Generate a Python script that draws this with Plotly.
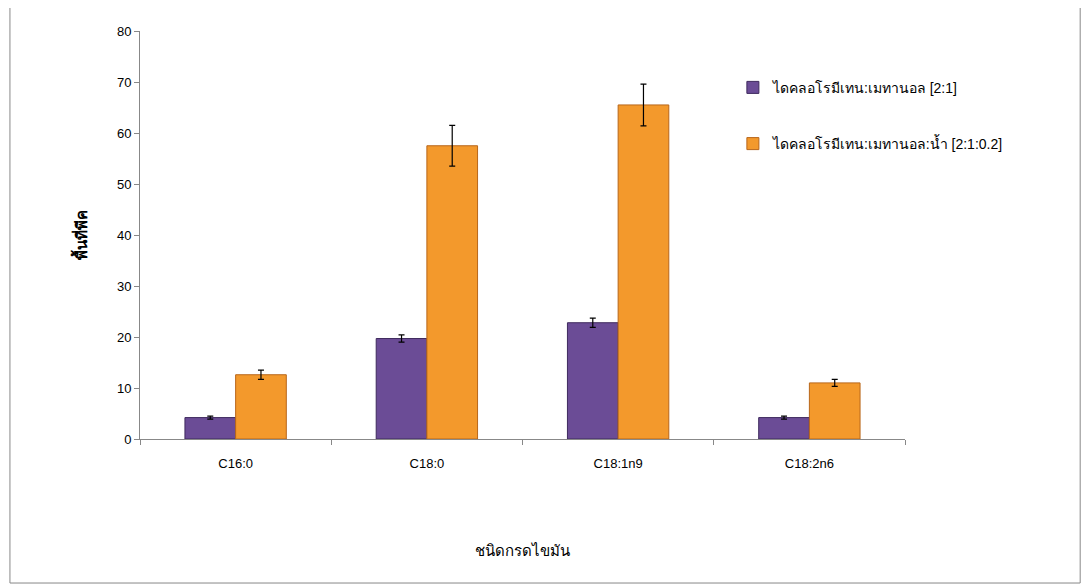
import plotly.graph_objects as go

categories = ["C16:0", "C18:0", "C18:1n9", "C18:2n6"]
s1_name = "ไดคลอโรมีเทน:เมทานอล [2:1]"
s1_vals = [4.2, 19.7, 22.8, 4.2]
s1_err = [0.3, 0.7, 0.9, 0.3]
s2_name = "ไดคลอโรมีเทน:เมทานอล:น้ำ [2:1:0.2]"
s2_vals = [12.6, 57.5, 65.5, 11.0]
s2_err = [0.9, 4.0, 4.1, 0.7]

font = "Liberation Sans, Noto Sans, sans-serif"

fig = go.Figure()
fig.add_trace(go.Bar(x=categories, y=s1_vals, name=s1_name, legendgroup="a",
                     marker=dict(color="#6b4c96", line=dict(color="#3f2a5e", width=1)),
                     error_y=dict(type="data", array=s1_err, color="black", thickness=1.2, width=3)))
fig.add_trace(go.Bar(x=categories, y=s2_vals, name=s2_name, legendgroup="b",
                     marker=dict(color="#f3992c", line=dict(color="#b8661a", width=1)),
                     error_y=dict(type="data", array=s2_err, color="black", thickness=1.2, width=3)))

fig.update_layout(
    width=1089, height=588,
    paper_bgcolor="white", plot_bgcolor="white",
    margin=dict(l=132, r=192, t=23, b=157),
    bargap=0.47, bargroupgap=0.0,
    font=dict(family=font, size=13, color="black"),
    legend=dict(x=0.775, y=0.9, xanchor="left", yanchor="top", traceorder="grouped",
                bgcolor="rgba(0,0,0,0)", font=dict(size=14), tracegroupgap=35),
    showlegend=True,
    shapes=[dict(type="rect", xref="paper", yref="paper", x0=-0.17, x1=1.229, y0=-0.353, y1=1.064,
                 line=dict(color="#888", width=1))],
)
fig.update_xaxes(showline=True, linecolor="#888", ticks="outside", tickson="boundaries",
                 ticklen=5, tickcolor="#888", ticklabelstandoff=12,
                 title=dict(text="ชนิดกรดไขมัน", font=dict(size=15), standoff=75))
fig.update_yaxes(range=[0, 80], dtick=10, showline=True, linecolor="#888", ticks="outside",
                 ticklen=5, tickcolor="#888", showgrid=False, zeroline=False,
                 title=dict(text="<b>พื้นที่พีค</b>", font=dict(size=15), standoff=25))

fig.write_html("out.html")
